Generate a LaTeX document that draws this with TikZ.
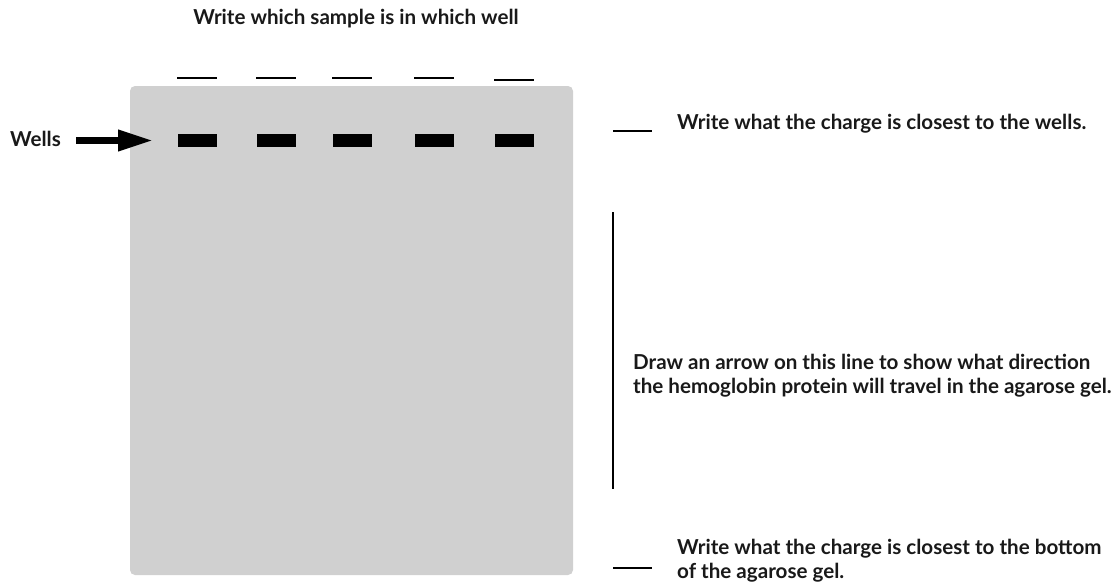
\documentclass[tikz,border=0pt]{standalone}
\usepackage{fontspec}
\setmainfont{Lato}
\usetikzlibrary{arrows.meta}
\begin{document}
\begin{tikzpicture}[x=1pt,y=-1pt,
  lbl/.style={font=\bfseries\fontsize{20.6}{24}\selectfont, inner sep=0pt, text=black!90},
  gel/.style={fill=gray!37, draw=none, rounded corners=5pt},
  wellbar/.style={fill=black, draw=none, minimum width=39pt, minimum height=13pt, inner sep=0pt},
  blank/.style={line width=2pt, black},
  guide/.style={line width=2.5pt, black}
]
\useasboundingbox (0,0) rectangle (1119,584);
% gel
\path[gel] (130,86) rectangle (573,575);
% title
\node[lbl] (title) at (356,18.6) {Write which sample is in which well};
% sample blanks and wells
\foreach \i/\x/\y in {1/197/77.5, 2/276/77.5, 3/352/77.5, 4/434/77.5, 5/514/80} {
  \coordinate (bl\i) at (\x-20,\y);
  \coordinate (br\i) at (\x+20,\y);
  \draw[blank] (bl\i) -- (br\i);
  \node[wellbar] (w\i) at (\x,140.5) {};
}
% wells label and arrow
\node[lbl, anchor=west] (wells) at (10,139) {Wells};
\coordinate (arrtip) at (153,140.5);
\draw[line width=7pt, -{Triangle[length=35pt,width=20pt]}] (76,140.5) -- (arrtip);
% right side
\coordinate (d1a) at (613,131); \coordinate (d1b) at (652,131);
\draw[blank] (d1a) -- (d1b);
\node[lbl, anchor=west] (t1) at (677,124) {Write what the charge is closest to the wells.};
\coordinate (va) at (613,212); \coordinate (vb) at (613,489);
\draw[guide] (va) -- (vb);
\node[lbl, anchor=west, align=left] (t2) at (633,376) {Draw an arrow on this line to show what direction\\the hemoglobin protein will travel in the agarose gel.};
\coordinate (d2a) at (613,568); \coordinate (d2b) at (652,568);
\draw[blank] (d2a) -- (d2b);
\node[lbl, anchor=west, align=left] (t3) at (677,561) {Write what the charge is closest to the bottom\\of the agarose gel.};
\end{tikzpicture}
\end{document}
